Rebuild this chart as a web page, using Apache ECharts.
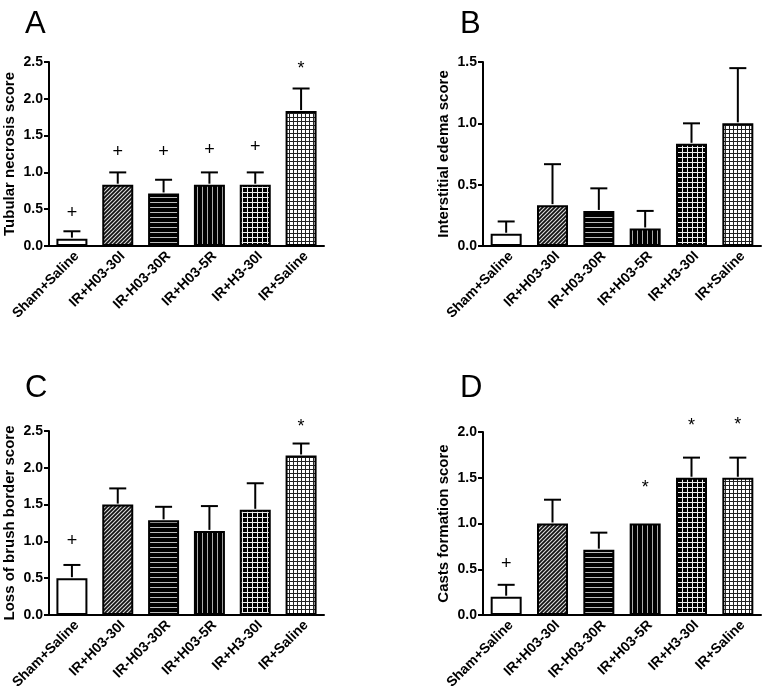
<!DOCTYPE html>
<html>
<head>
<meta charset="utf-8">
<script src="https://cdn.jsdelivr.net/npm/echarts@6/dist/echarts.min.js"></script>
<style>
html,body{margin:0;padding:0;background:#fff;}
#chart{width:766px;height:692px;}
</style>
</head>
<body>
<div id="chart"></div>
<script>
const categories = ['Sham+Saline','IR+H03-30I','IR-H03-30R','IR+H03-5R','IR+H3-30I','IR+Saline'];

const meanA = [0.1, 0.833, 0.714, 0.833, 0.833, 1.833];
const topA  = [0.2, 1.0, 0.9, 1.0, 1.0, 2.14];
const markA = ['+','+','+','+','+','*'];
const markAY = [0.45, 1.27, 1.27, 1.30, 1.34, 2.46];

const meanB = [0.1, 0.333, 0.286, 0.143, 0.833, 1.0];
const topB  = [0.2, 0.667, 0.47, 0.286, 1.0, 1.45];
const markB = ['','','','','',''];
const markBY = [0,0,0,0,0,0];

const meanC = [0.5, 1.5, 1.286, 1.143, 1.429, 2.167];
const topC  = [0.68, 1.72, 1.47, 1.48, 1.79, 2.33];
const markC = ['+','','','','','*'];
const markCY = [1.0, 0, 0, 0, 0, 2.61];

const meanD = [0.2, 1.0, 0.714, 1.0, 1.5, 1.5];
const topD  = [0.33, 1.26, 0.9, 1.0, 1.72, 1.72];
const markD = ['+','','','*','*','*'];
const markDY = [0.56, 0, 0, 1.43, 2.11, 2.12];

const yTitles = ['Tubular necrosis score','Interstitial edema score','Loss of brush border score','Casts formation score'];
const yMax = [2.5, 1.5, 2.5, 2.0];
const letters = ['A','B','C','D'];

function pattern(kind){
  const c = document.createElement('canvas');
  const ctx = c.getContext('2d');
  if(kind==='diag'){
    c.width=4;c.height=4;
    ctx.fillStyle='#111';ctx.fillRect(0,0,4,4);
    ctx.strokeStyle='#ddd';ctx.lineWidth=1.1;
    ctx.beginPath();ctx.moveTo(-1,5);ctx.lineTo(5,-1);ctx.stroke();
    ctx.beginPath();ctx.moveTo(-1,1);ctx.lineTo(1,-1);ctx.stroke();
    ctx.beginPath();ctx.moveTo(3,5);ctx.lineTo(5,3);ctx.stroke();
  } else if(kind==='horiz'){
    c.width=5;c.height=5;
    ctx.fillStyle='#000';ctx.fillRect(0,0,5,5);
    ctx.fillStyle='#bbb';ctx.fillRect(0,2,5,1);
  } else if(kind==='vert'){
    c.width=5;c.height=5;
    ctx.fillStyle='#000';ctx.fillRect(0,0,5,5);
    ctx.fillStyle='#aaa';ctx.fillRect(2,0,1,5);
  } else if(kind==='gridB'){
    c.width=5;c.height=5;
    ctx.fillStyle='#000';ctx.fillRect(0,0,5,5);
    ctx.fillStyle='#eee';ctx.fillRect(2,0,1,5);ctx.fillRect(0,2,5,1);
  } else if(kind==='gridW'){
    c.width=4;c.height=4;
    ctx.fillStyle='#fff';ctx.fillRect(0,0,4,4);
    ctx.fillStyle='#222';ctx.fillRect(1,0,1,4);ctx.fillRect(0,1,4,1);
  }
  return {image:c, repeat:'repeat'};
}
const fills = ['#fff', pattern('diag'), pattern('horiz'), pattern('vert'), pattern('gridB'), pattern('gridW')];

const grids = [
  {left:49, top:62, width:275, height:184},
  {left:483, top:62, width:278, height:184},
  {left:49, top:431, width:275, height:184},
  {left:483, top:432, width:278, height:183}
];
const means = [meanA, meanB, meanC, meanD];
const tops = [topA, topB, topC, topD];
const marks = [markA, markB, markC, markD];
const markYs = [markAY, markBY, markCY, markDY];

const FONT = 'Liberation Sans';

const xAxes = [], yAxes = [], series = [], graphics = [];
for(let p=0;p<4;p++){
  xAxes.push({
    type:'category', gridIndex:p, data:categories,
    axisLine:{lineStyle:{color:'#000', width:2}},
    axisTick:{show:false},
    axisLabel:{rotate:45, margin:3, verticalAlign:'top', color:'#000', fontWeight:700, fontSize:14, fontFamily:FONT, interval:0},
    splitLine:{show:false}
  });
  yAxes.push({
    type:'value', gridIndex:p, min:0, max:yMax[p], interval:0.5,
    name:yTitles[p], nameLocation:'middle', nameGap:32,
    nameTextStyle:{color:'#000', fontWeight:700, fontSize:15, fontFamily:FONT},
    axisLine:{show:true, lineStyle:{color:'#000', width:2}},
    axisTick:{show:true, length:5, lineStyle:{color:'#000', width:2}},
    axisLabel:{color:'#000', fontWeight:700, fontSize:14, fontFamily:FONT, margin:6,
      formatter:v=>v.toFixed(1)},
    splitLine:{show:false}
  });
  series.push({
    type:'bar', xAxisIndex:p, yAxisIndex:p, barWidth:31, animation:false,
    data: means[p].map((v,i)=>({value:v, itemStyle:{color:fills[i], borderColor:'#000', borderWidth:2}})),
    z:2
  });
  const eb = means[p].map((v,i)=>[i, v, tops[p][i]]);
  series.push({
    type:'custom', xAxisIndex:p, yAxisIndex:p, animation:false, z:3,
    data: eb,
    encode:{x:0, y:[1,2]},
    renderItem:(params, api)=>{
      const i = api.value(0), m = api.value(1), t = api.value(2);
      if(!(t>m)) return null;
      const b = api.coord([i, m]), tp = api.coord([i, t]);
      const hw = 8.5;
      return {type:'group', children:[
        {type:'line', shape:{x1:b[0], y1:b[1]-1, x2:tp[0], y2:tp[1]}, style:{stroke:'#000', lineWidth:2}},
        {type:'line', shape:{x1:tp[0]-hw, y1:tp[1], x2:tp[0]+hw, y2:tp[1]}, style:{stroke:'#000', lineWidth:2}}
      ]};
    }
  });
  const md = marks[p].map((s,i)=>[i, markYs[p][i], s]).filter(d=>d[2]!=='');
  if(md.length){
    series.push({
      type:'custom', xAxisIndex:p, yAxisIndex:p, animation:false, z:4,
      data: md,
      encode:{x:0, y:1},
      renderItem:(params, api)=>{
        const i = api.value(0), y = api.value(1);
        const s = md[params.dataIndex][2];
        const c = api.coord([i, y]);
        return {type:'text', x:c[0], y:c[1] + (s==='*' ? 4 : 0), style:{
          text:s, fill:'#000', fontSize:18, fontFamily:FONT, fontWeight:'normal',
          align:'center', verticalAlign:'middle'
        }};
      }
    });
  }
}
const letterPos = [[25,26],[460,26],[25,390],[460,390]];
for(let p=0;p<4;p++){
  graphics.push({type:'text', left:letterPos[p][0], top:letterPos[p][1]-17, style:{
    text:letters[p], fill:'#000', fontSize:31, fontFamily:FONT
  }});
}

const chart = echarts.init(document.getElementById('chart'), null, {renderer:'canvas'});
chart.setOption({
  backgroundColor:'#fff',
  animation:false,
  textStyle:{fontFamily:FONT},
  grid:grids,
  xAxis:xAxes,
  yAxis:yAxes,
  series:series,
  graphic:graphics
});
</script>
</body>
</html>
